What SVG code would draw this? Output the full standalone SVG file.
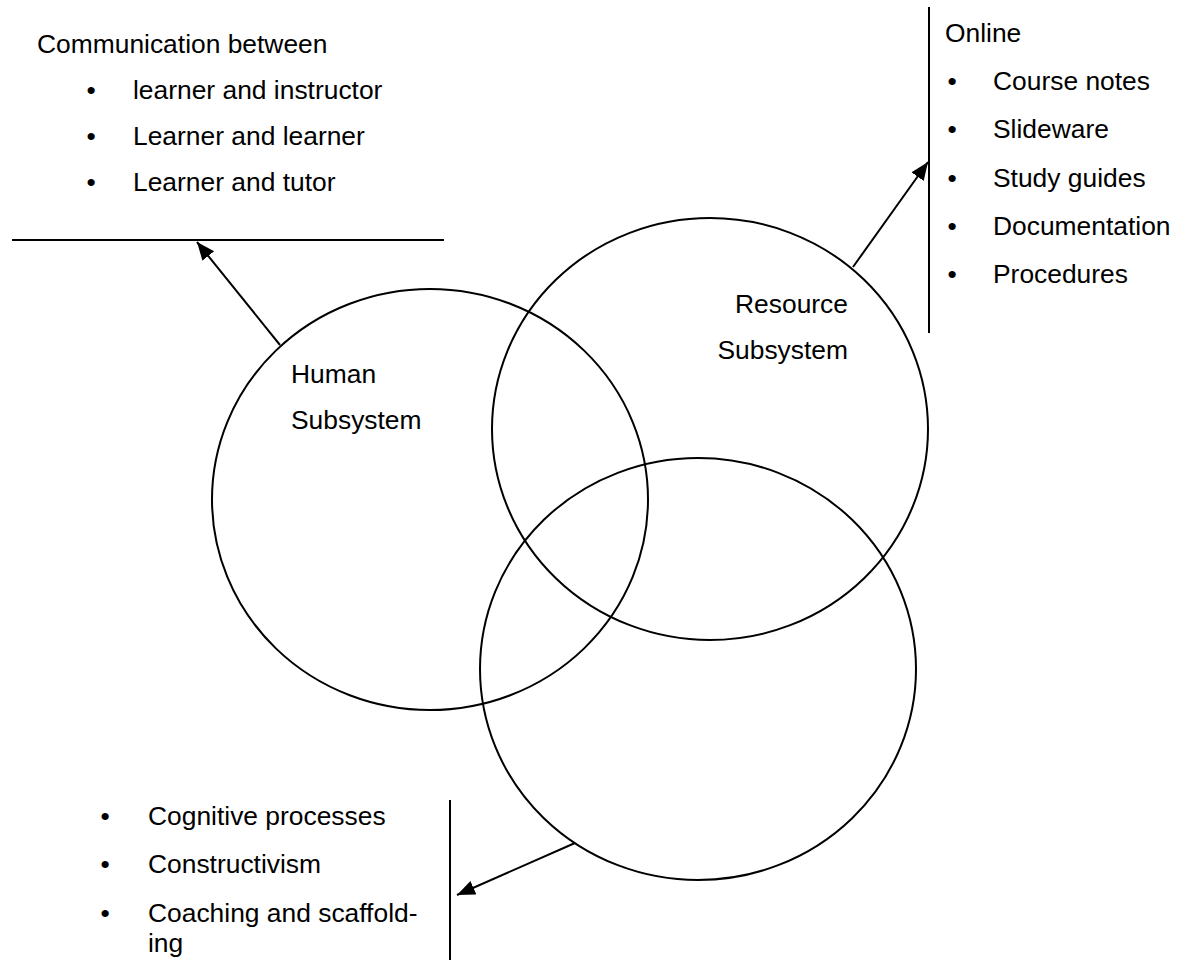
<svg xmlns="http://www.w3.org/2000/svg" width="1178" height="960" viewBox="0 0 1178 960">
<style>
  .t { font-family: "Liberation Sans", Arial, sans-serif; font-size: 26.4px; fill: #000; }
  .b { font-family: "Liberation Sans", Arial, sans-serif; font-size: 26.4px; fill: #000; text-anchor: middle; }
  .set { fill: none; stroke: #000; stroke-width: 2; }
  .rule { stroke: #000; stroke-width: 2; fill: none; }
  .arrow { stroke: #000; stroke-width: 2; fill: none; marker-end: url(#ah); }
</style>
<defs>
  <marker id="ah" markerUnits="userSpaceOnUse" markerWidth="20" markerHeight="16" refX="18" refY="7.5" orient="auto">
    <path d="M0,0 L18,7.5 L0,15 z" fill="#000"/>
  </marker>
</defs>
<rect width="1178" height="960" fill="#fff"/>

<g id="human">
  <ellipse class="set" cx="430" cy="499.5" rx="218" ry="210.5"/>
  <text class="t" x="291" y="383">Human</text>
  <text class="t" x="291" y="429">Subsystem</text>
</g>
<g id="resource">
  <ellipse class="set" cx="710" cy="429" rx="218" ry="211"/>
  <text class="t" x="848" y="313" text-anchor="end">Resource</text>
  <text class="t" x="848" y="359" text-anchor="end">Subsystem</text>
</g>
<g id="third">
  <ellipse class="set" cx="698" cy="669" rx="218" ry="211"/>
</g>

<g id="communication-list">
  <line class="rule" x1="12" y1="240" x2="444" y2="240"/>
  <text class="t" x="37" y="53">Communication between</text>
  <text class="b" x="91" y="99">•</text><text class="t" x="133" y="99">learner and instructor</text>
  <text class="b" x="91" y="145">•</text><text class="t" x="133" y="145">Learner and learner</text>
  <text class="b" x="91" y="191">•</text><text class="t" x="133" y="191">Learner and tutor</text>
</g>

<g id="online-list">
  <line class="rule" x1="929" y1="7" x2="929" y2="333"/>
  <text class="t" x="945" y="42">Online</text>
  <text class="b" x="952" y="90">•</text><text class="t" x="993" y="90">Course notes</text>
  <text class="b" x="952" y="138">•</text><text class="t" x="993" y="138">Slideware</text>
  <text class="b" x="952" y="187">•</text><text class="t" x="993" y="187">Study guides</text>
  <text class="b" x="952" y="235">•</text><text class="t" x="993" y="235">Documentation</text>
  <text class="b" x="952" y="283">•</text><text class="t" x="993" y="283">Procedures</text>
</g>

<g id="learning-list">
  <line class="rule" x1="450" y1="800" x2="450" y2="960"/>
  <text class="b" x="105" y="825">•</text><text class="t" x="148" y="825">Cognitive processes</text>
  <text class="b" x="105" y="873">•</text><text class="t" x="148" y="873">Constructivism</text>
  <text class="b" x="105" y="922">•</text><text class="t" x="148" y="922">Coaching and scaffold-</text>
  <text class="t" x="148" y="952">ing</text>
</g>

<g id="connectors">
  <line class="arrow" x1="280" y1="345" x2="197" y2="242"/>
  <line class="arrow" x1="853" y1="267" x2="928" y2="162"/>
  <line class="arrow" x1="575" y1="843" x2="457" y2="895"/>
</g>
</svg>
